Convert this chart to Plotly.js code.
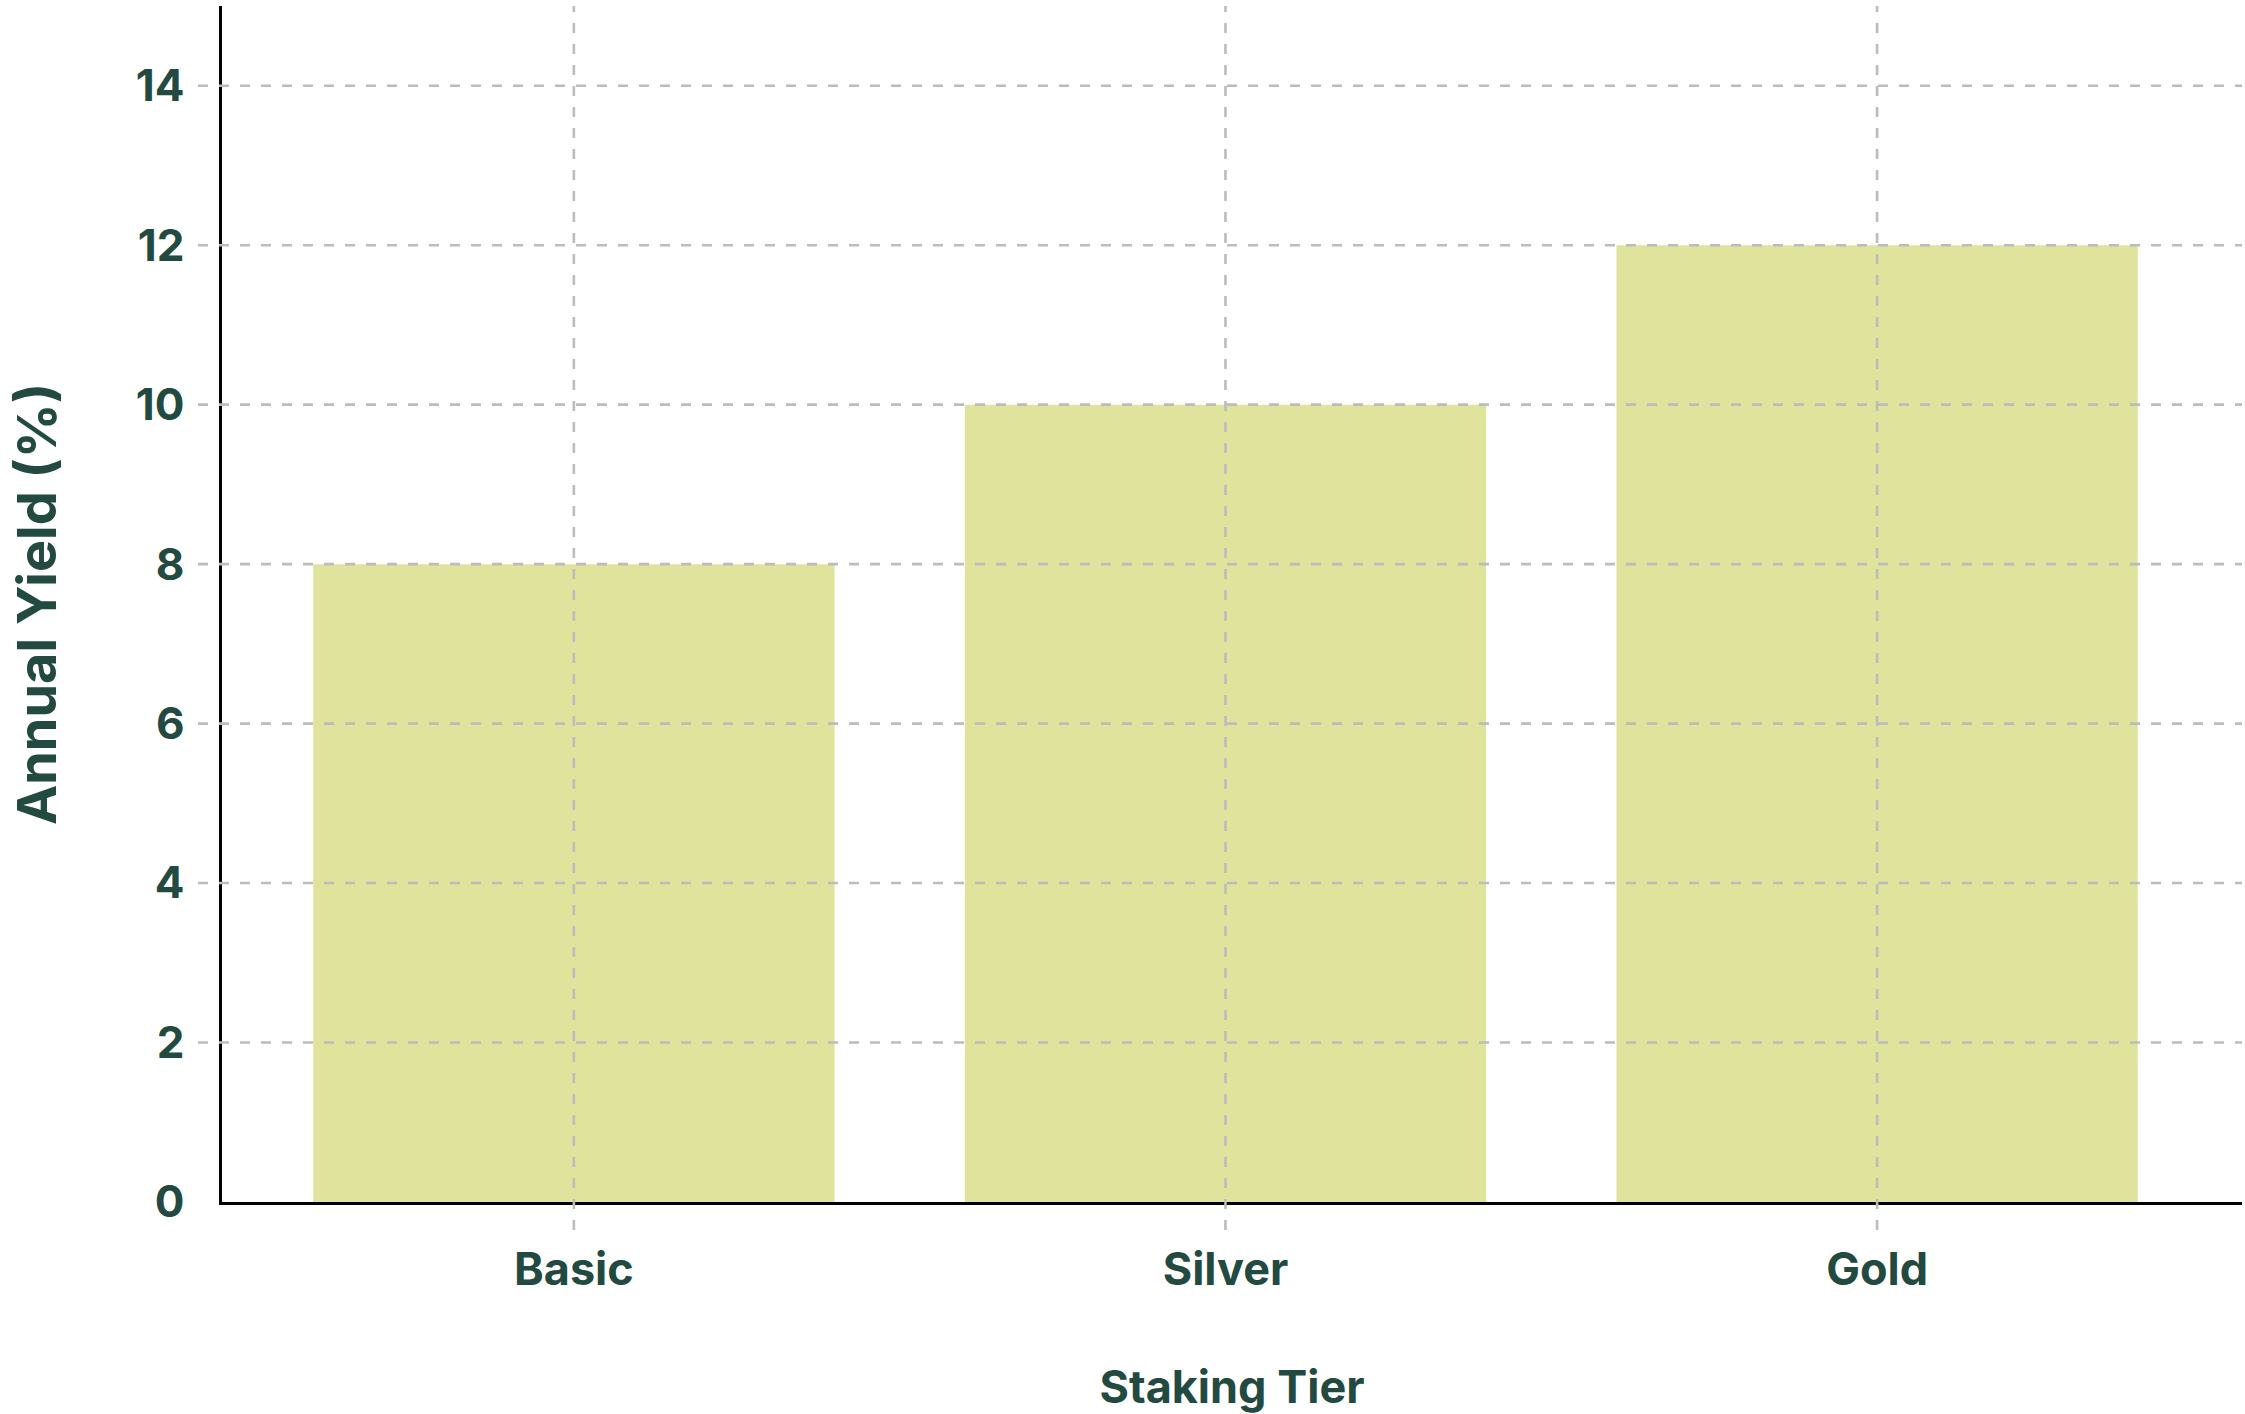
<!DOCTYPE html>
<html>
<head>
<meta charset="utf-8">
<script src="https://cdn.plot.ly/plotly-3.0.1.min.js"></script>
<style>html,body{margin:0;padding:0;background:#fff;}#chart{width:2245px;height:1414px;}</style>
</head>
<body>
<div id="chart"></div>
<script>
const tiers = ["Basic", "Silver", "Gold"];
const annualYield = [8, 10, 12];
const yTicks = [0, 2, 4, 6, 8, 10, 12, 14];

const textColor = "#234a40";
const barColor = "#e0e39c";
const gridColor = "#bcbcbc";
const W = 2245, H = 1414;
const margin = {l: 222, r: 3, t: 6, b: 212};
const plotW = W - margin.l - margin.r;
const plotH = H - margin.t - margin.b;

const shapes = [];
yTicks.forEach(v => {
  if (v === 0) return;
  shapes.push({type: "line", layer: "above", xref: "paper", yref: "y",
    x0: -24 / plotW, x1: 1, y0: v, y1: v,
    line: {color: gridColor, width: 2.6, dash: "10px,11px"}});
});
tiers.forEach(t => {
  shapes.push({type: "line", layer: "above", xref: "x", yref: "paper",
    x0: t, x1: t, y0: -28 / plotH, y1: 1,
    line: {color: gridColor, width: 2.6, dash: "10px,11px"}});
});

const family = "Inter, 'Liberation Sans', sans-serif";
const font = {family: family, color: textColor, size: 44, weight: 700};

Plotly.newPlot("chart", [{
  type: "bar",
  x: tiers,
  y: annualYield,
  marker: {color: barColor},
  hoverinfo: "skip"
}], {
  width: W, height: H,
  margin: margin,
  paper_bgcolor: "#ffffff",
  plot_bgcolor: "#ffffff",
  bargap: 0.2,
  showlegend: false,
  font: font,
  shapes: shapes,
  xaxis: {
    type: "category",
    range: [-0.54, 2.56],
    showgrid: false,
    zeroline: false,
    showline: true, linecolor: "#000000", linewidth: 2.7,
    ticks: "outside", ticklen: 26, tickcolor: "rgba(0,0,0,0)",
    tickfont: {family: family, size: 45, color: textColor, weight: 700},
    title: {text: "Staking Tier", standoff: 78,
      font: {family: family, size: 45, color: textColor, weight: 700}},
    automargin: false
  },
  yaxis: {
    range: [0, 15],
    tickvals: yTicks,
    ticktext: yTicks.map(String),
    showgrid: false,
    zeroline: false,
    showline: true, linecolor: "#000000", linewidth: 2.7,
    ticks: "outside", ticklen: 24, tickcolor: "rgba(0,0,0,0)",
    ticklabelstandoff: 2,
    tickfont: {family: family, size: 44, color: textColor, weight: 700},
    title: {text: "Annual Yield (%)", standoff: 62,
      font: {family: family, size: 54, color: textColor, weight: 700}},
    automargin: false
  }
}, {displayModeBar: false, staticPlot: true});
</script>
</body>
</html>
